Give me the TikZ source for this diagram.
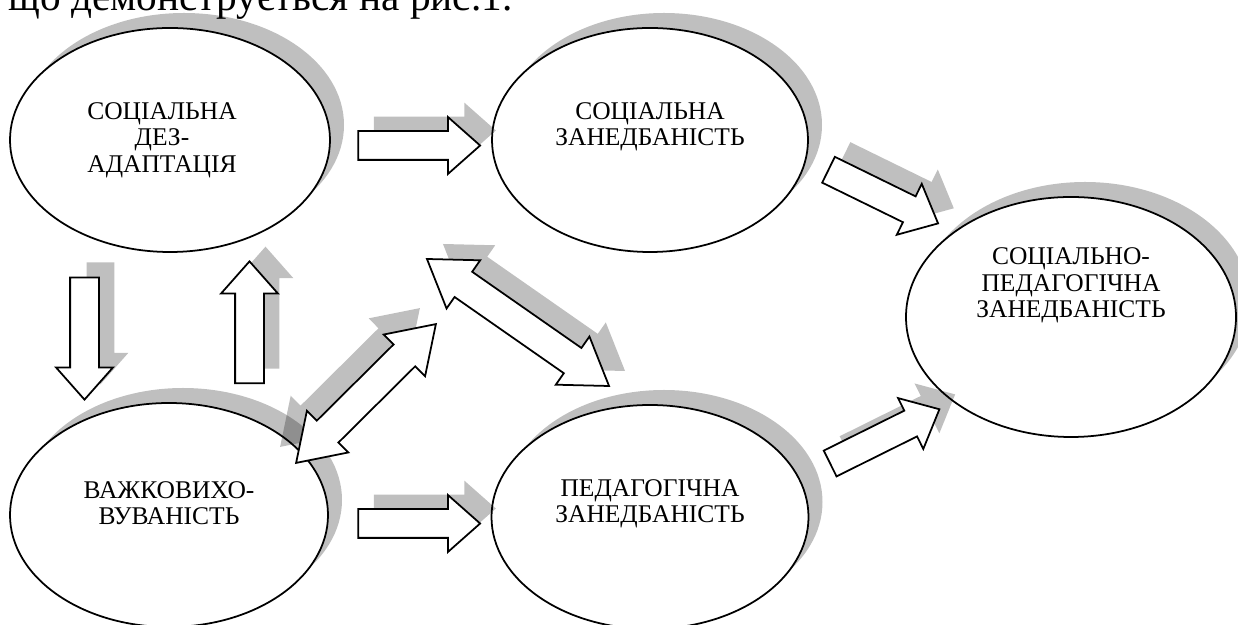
\documentclass[tikz,border=0pt]{standalone}
\usepackage{fontspec}
\setmainfont{Liberation Serif}
\usetikzlibrary{shapes.geometric,shapes.arrows}
\begin{document}
\begin{tikzpicture}

    \tikzset{
      blob/.style={ellipse, draw, fill=white, line width=1pt, inner sep=0pt},
      blobshadow/.style={ellipse, fill=black, fill opacity=0.25, inner sep=0pt},
      txt/.style={align=center, font=\fontsize{14.5}{15.1}\selectfont, inner sep=0pt},
      barrow/.style={single arrow, single arrow head extend=0.28cm, single arrow tip angle=83,
        minimum height=2.44cm, inner sep=0pt, inner ysep=0.27cm},
      darrow/.style={double arrow, double arrow head extend=0.28cm, double arrow tip angle=67,
        inner sep=0pt, inner ysep=0.29cm},
      arrline/.style={draw, fill=white, line width=1pt},
      shadowfill/.style={draw=none, fill=black, fill opacity=0.25},
    }
    \useasboundingbox (0,0) rectangle (24.76,12.5);
    \clip (0,0) rectangle (24.76,12.5);

	\node[anchor=base west, font=\fontsize{23.5}{28}\selectfont, inner sep=0pt] (intro) at (0.16,12.29) {що демонструється на рис.1.};

	\node[blobshadow, minimum width=6.40cm, minimum height=4.48cm] (soc-sh) at (3.68,10.00) {};
	\node[blob, minimum width=6.40cm, minimum height=4.48cm] (soc) at (3.40,9.70) {};
	\node[txt] (soc-t) at ([xshift=-0.16cm]soc) {СОЦІАЛЬНА\\ДЕЗ-\\АДАПТАЦІЯ};

	\node[blobshadow, minimum width=6.32cm, minimum height=4.48cm] (socz-sh) at (13.28,10.00) {};
	\node[blob, minimum width=6.32cm, minimum height=4.48cm] (socz) at (13.00,9.70) {};
	\node[txt] (socz-t) at ([yshift=0.26cm]socz) {СОЦІАЛЬНА\\ЗАНЕДБАНІСТЬ};

	\node[blobshadow, minimum width=6.36cm, minimum height=4.48cm] (vazh-sh) at (3.66,2.50) {};
	\node[blob, minimum width=6.36cm, minimum height=4.48cm] (vazh) at (3.38,2.20) {};
	\node[txt] (vazh-t) at ([yshift=0.24cm]vazh) {ВАЖКОВИХО-\\ВУВАНІСТЬ};

	\node[blobshadow, minimum width=6.34cm, minimum height=4.48cm] (ped-sh) at (13.28,2.46) {};
	\node[blob, minimum width=6.34cm, minimum height=4.48cm] (ped) at (13.00,2.16) {};
	\node[txt] (ped-t) at ([yshift=0.26cm]ped) {ПЕДАГОГІЧНА\\ЗАНЕДБАНІСТЬ};

	\node[blobshadow, minimum width=6.60cm, minimum height=4.80cm] (socped-sh) at (21.70,6.46) {};
	\node[blob, minimum width=6.60cm, minimum height=4.80cm] (socped) at (21.42,6.16) {};
	\node[txt] (socped-t) at ([yshift=0.63cm]socped) {СОЦІАЛЬНО-\\ПЕДАГОГІЧНА\\ЗАНЕДБАНІСТЬ};

	\node[barrow, shadowfill] (ar1-sh) at (8.54,9.89) {};
	\node[barrow, arrline] (ar1) at (8.22,9.59) {};
	\node[barrow, shadowfill] (ar2-sh) at (8.54,2.33) {};
	\node[barrow, arrline] (ar2) at (8.22,2.03) {};
	\node[barrow, shadowfill, rotate=-90] (ar3-sh) at (2.01,6.19) {};
	\node[barrow, arrline, rotate=-90] (ar3) at (1.69,5.89) {};
	\node[barrow, shadowfill, rotate=90] (ar4-sh) at (5.31,6.19) {};
	\node[barrow, arrline, rotate=90] (ar4) at (4.99,5.89) {};
	\node[barrow, shadowfill, rotate=-26.1] (ar5-sh) at (17.84,8.94) {};
	\node[barrow, arrline, rotate=-26.1] (ar5) at (17.52,8.64) {};
	\node[barrow, shadowfill, rotate=26.4] (ar6-sh) at (17.87,4.00) {};
	\node[barrow, arrline, rotate=26.4] (ar6) at (17.55,3.70) {};

	\node[darrow, shadowfill, rotate=44.8, minimum height=3.94cm] (dar1-sh) at (7.00,4.95) {};
	\node[darrow, arrline, rotate=44.8, minimum height=3.94cm] (dar1) at (7.32,4.63) {};
	\node[darrow, shadowfill, rotate=-34.9, minimum height=4.44cm] (dar2-sh) at (10.68,6.35) {};
	\node[darrow, arrline, rotate=-34.9, minimum height=4.44cm] (dar2) at (10.36,6.05) {};

\end{tikzpicture}
\end{document}
